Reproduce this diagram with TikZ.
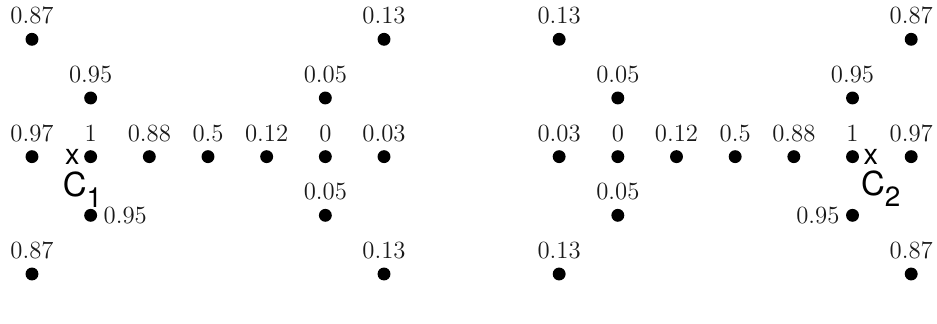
\documentclass[tikz,border=0pt]{standalone}
\usepackage{fontspec}
\newfontfamily\helv{TeX Gyre Heros}
\usetikzlibrary{positioning}
\tikzset{
  dot/.style={circle,fill=black,inner sep=0pt,minimum size=2.2mm,outer sep=0pt},
  num/.style={font=\fontsize{12}{14}\selectfont,inner sep=0pt,text=black!90},
  lab/.style={label={[num,label distance=4pt]above:#1}},
  cross/.style={font=\helv\fontsize{14}{14}\selectfont,inner sep=0pt},
  cname/.style={font=\helv\fontsize{16}{16}\selectfont,inner sep=0pt}
}

\begin{document}
\begin{tikzpicture}[x=1cm,y=1cm]
\useasboundingbox (0,0) rectangle (15.97,5.52);
% left pattern
\begin{scope}[shift={(0.545,0.85)}]
\foreach \v [count=\i from 0] in {0.97,1,0.88,0.5,0.12,0,0.03}
  \node[dot,lab=\v] (l\i) at (\i,2) {};
\node[dot,lab=0.87] (la) at (0,4) {};
\node[dot,lab=0.13] (lb) at (6,4) {};
\node[dot,lab=0.95] (lc) at (1,3) {};
\node[dot,lab=0.05] (ld) at (5,3) {};
\node[dot,label={[num,label distance=3pt]right:0.95}] (le) at (1,1) {};
\node[dot,lab=0.05] (lf) at (5,1) {};
\node[dot,lab=0.87] (lg) at (0,0) {};
\node[dot,lab=0.13] (lh) at (6,0) {};
\end{scope}
\node[cross,left=2pt of l1] (x1) {x};
\node[cname] (c1) at ([shift={(-0.14,-0.56)}]l1) {C\raisebox{-5.3pt}{\fontsize{13.5}{13.5}\selectfont 1}};
% right pattern
\begin{scope}[shift={(9.53,0.85)}]
\foreach \v [count=\i from 0] in {0.03,0,0.12,0.5,0.88,1,0.97}
  \node[dot,lab=\v] (r\i) at (\i,2) {};
\node[dot,lab=0.13] (ra) at (0,4) {};
\node[dot,lab=0.87] (rb) at (6,4) {};
\node[dot,lab=0.05] (rc) at (1,3) {};
\node[dot,lab=0.95] (rd) at (5,3) {};
\node[dot,lab=0.05] (re) at (1,1) {};
\node[dot,label={[num,label distance=3pt]left:0.95}] (rf) at (5,1) {};
\node[dot,lab=0.13] (rg) at (0,0) {};
\node[dot,lab=0.87] (rh) at (6,0) {};
\end{scope}
\node[cross,right=2pt of r5] (x2) {x};
\node[cname] (c2) at ([shift={(0.48,-0.54)}]r5) {C\raisebox{-5.3pt}{\fontsize{13.5}{13.5}\selectfont 2}};
\end{tikzpicture}
\end{document}
